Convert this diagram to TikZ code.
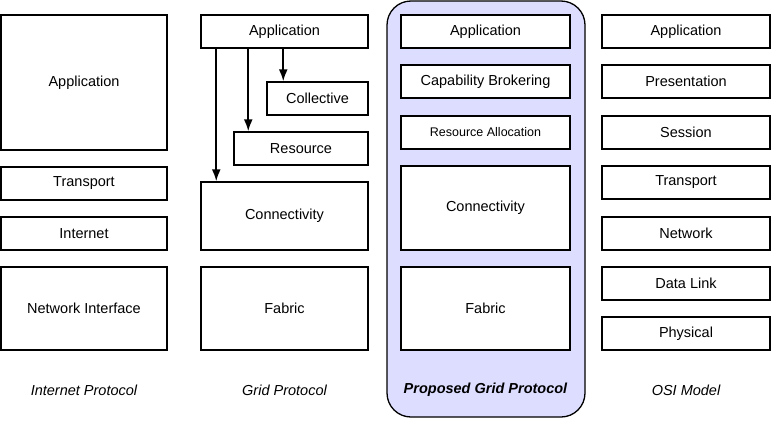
\documentclass[tikz,border=0pt]{standalone}
\usepackage{fontspec}
\setmainfont{Liberation Sans}
\usepackage{xcolor}
\usetikzlibrary{arrows.meta}
\definecolor{proposedfill}{RGB}{221,221,255}

\begin{document}
\begin{tikzpicture}[
			     x=1pt, y=-1pt,
			     layer/.style={draw, line width=1.5pt, fill=white, inner sep=0pt, font=\fontsize{14.5}{17}\selectfont},
			     small layer/.style={layer, font=\fontsize{12.5}{15}\selectfont},
			     caption/.style={font=\fontsize{14.5}{17}\selectfont\itshape},
			     normal line/.style={-{Latex[length=12pt,width=9pt]}, line width=1.7pt}
			     ] 
\useasboundingbox (0,0) rectangle (774,434);
\draw[fill=proposedfill, line width=1.3pt, rounded corners=24pt] (387,1) rectangle (585,417);
%
\node[layer, minimum width=166pt, minimum height=135pt] (ip-app) at (84,82.5) {Application};
\node[layer, minimum width=166pt, minimum height=33pt] (ip-trans) at (84,183.5) {Transport};
\node[layer, minimum width=166pt, minimum height=33pt] (ip-net) at (84,233.5) {Internet};
\node[layer, minimum width=166pt, minimum height=83pt] (ip-ni) at (84,308.5) {Network Interface};
\node[caption] (ip-lbl) at (84,390) {Internet Protocol};
%
\node[layer, minimum width=167pt, minimum height=33pt] (g-app) at (284.5,31.5) {Application};
\node[layer, minimum width=101pt, minimum height=33pt] (g-coll) at (317.5,98.5) {Collective};
\node[layer, minimum width=134pt, minimum height=33pt] (g-res) at (301,148.5) {Resource};
\node[layer, minimum width=167pt, minimum height=68pt] (g-conn) at (284.5,216) {Connectivity};
\node[layer, minimum width=167pt, minimum height=83pt] (g-fab) at (284.5,308.5) {Fabric};
\node[caption] (g-lbl) at (284.5,390) {Grid Protocol};
\coordinate (to-coll) at ([xshift=17pt]g-coll.north west);
\coordinate (to-res) at ([xshift=15pt]g-res.north west);
\coordinate (to-conn) at ([xshift=16pt]g-conn.north west);
\draw[normal line] (g-app.south -| to-coll) -- (to-coll);
\draw[normal line] (g-app.south -| to-res) -- (to-res);
\draw[normal line] (g-app.south -| to-conn) -- (to-conn);
%
\node[layer, minimum width=169pt, minimum height=33pt] (p-app) at (485.5,31.5) {Application};
\node[layer, minimum width=169pt, minimum height=33pt] (p-cap) at (485.5,81.5) {Capability Brokering};
\node[small layer, minimum width=169pt, minimum height=33pt] (p-res) at (485.5,132.5) {Resource Allocation};
\node[layer, minimum width=169pt, minimum height=84pt] (p-conn) at (485.5,208) {Connectivity};
\node[layer, minimum width=169pt, minimum height=83pt] (p-fab) at (485.5,308.5) {Fabric};
\node[caption, font=\fontsize{14.5}{17}\selectfont\bfseries\itshape] (p-lbl) at (485.5,390) {Proposed Grid Protocol};
%
\node[layer, minimum width=168pt, minimum height=33pt] (osi-app) at (686,31.5) {Application};
\node[layer, minimum width=168pt, minimum height=33pt] (osi-pres) at (686,81.5) {Presentation};
\node[layer, minimum width=168pt, minimum height=33pt] (osi-sess) at (686,132.5) {Session};
\node[layer, minimum width=168pt, minimum height=33pt] (osi-trans) at (686,182.5) {Transport};
\node[layer, minimum width=168pt, minimum height=33pt] (osi-net) at (686,233.5) {Network};
\node[layer, minimum width=168pt, minimum height=33pt] (osi-dl) at (686,283.5) {Data Link};
\node[layer, minimum width=168pt, minimum height=33pt] (osi-phy) at (686,333.5) {Physical};
\node[caption] (osi-lbl) at (686,390) {OSI Model};
\end{tikzpicture}
\end{document}
